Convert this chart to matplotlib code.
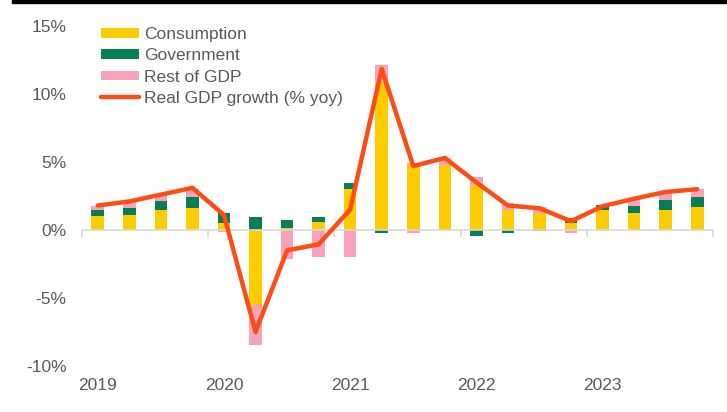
import numpy as np
import matplotlib.pyplot as plt
from matplotlib.patches import Rectangle

plt.rcParams.update({
    'font.family': ['Liberation Sans', 'DejaVu Sans'],
    'font.size': 12.5,
    'text.color': '#595959',
    'xtick.color': '#595959',
    'ytick.color': '#595959',
})

# quarterly contributions to yoy real GDP growth, 2019Q1 - 2023Q4
years = ['2019', '2020', '2021', '2022', '2023']
consumption = [1.0, 1.1, 1.5, 1.6, 0.55, -5.5, 0.15, 0.6, 3.05, 10.8,
               4.9, 4.75, 3.3, 1.45, 1.25, 0.55, 1.45, 1.25, 1.5, 1.7]
government = [0.5, 0.55, 0.6, 0.85, 0.7, 0.95, 0.55, 0.32, 0.4, -0.25,
              0.0, 0.0, -0.42, -0.2, -0.1, 0.3, 0.4, 0.55, 0.7, 0.75]
rest_of_gdp = [0.3, 0.45, 0.45, 0.6, -0.15, -2.95, -2.15, -2.0, -1.95, 1.3,
               -0.2, 0.55, 0.6, 0.55, 0.45, -0.2, -0.1, 0.45, 0.55, 0.55]
gdp_growth = [1.8, 2.1, 2.6, 3.1, 1.1, -7.5, -1.5, -1.05, 1.5, 11.85,
              4.7, 5.3, 3.5, 1.8, 1.6, 0.65, 1.75, 2.3, 2.8, 3.0]

c_cons = '#FFCC00'
c_gov = '#067F55'
c_rest = '#F8A3BB'
c_gdp = '#FF4B14'
c_axis = '#D9D9D9'

fig = plt.figure(figsize=(7.27, 4.12), dpi=100)
ax = fig.add_axes([82 / 727, 1 - 366 / 412, (713 - 82) / 727, (366 - 26) / 412])

x = np.arange(len(gdp_growth))
pos_base = np.zeros(len(x))
neg_base = np.zeros(len(x))
handles = []
# positives stack upwards from zero, negatives downwards
for vals, col, lab in [(consumption, c_cons, 'Consumption'),
                       (government, c_gov, 'Government'),
                       (rest_of_gdp, c_rest, 'Rest of GDP')]:
    v = np.array(vals)
    bottom = np.where(v >= 0, pos_base, neg_base)
    b = ax.bar(x, v, 0.4, bottom=bottom, color=col, label=lab, zorder=2)
    handles.append(b)
    pos_base += np.where(v >= 0, v, 0)
    neg_base += np.where(v < 0, v, 0)

ln, = ax.plot(x, gdp_growth, color=c_gdp, lw=3.2, solid_joinstyle='round',
              solid_capstyle='round', label='Real GDP growth (% yoy)', zorder=3)
handles.append(ln)

ax.set_xlim(-0.5, len(x) - 0.5)
ax.set_ylim(-10, 15)
ax.set_yticks([-10, -5, 0, 5, 10, 15])
ax.set_yticklabels(['-10%', '-5%', '0%', '5%', '10%', '15%'])
ax.tick_params(axis='y', length=0, pad=11)

for s in ['top', 'right', 'left']:
    ax.spines[s].set_visible(False)
ax.spines['bottom'].set_position(('data', 0))
ax.spines['bottom'].set_color(c_axis)
ax.spines['bottom'].set_linewidth(1.2)

# tick marks at year boundaries, year names under the first quarter
ax.set_xticks(np.arange(-0.5, len(x), 4))
ax.set_xticklabels([])
ax.tick_params(axis='x', length=5, width=1.2, color=c_axis)
for xi, yr in zip(np.arange(0, len(x), 4), years):
    ax.text(xi, -11.4, yr, ha='center', va='center', color='#595959')

ax.legend(handles=handles, loc='upper left', bbox_to_anchor=(101 / 727, 1 - 27 / 412),
          bbox_transform=fig.transFigure, frameon=False, borderpad=0,
          borderaxespad=0, handlelength=2.2, handleheight=0.46,
          handletextpad=0.3, labelspacing=0.36)

fig.patches.append(Rectangle((12 / 727, 1 - 3 / 412), 1, 3 / 412,
                             transform=fig.transFigure, color='black'))

fig.savefig('out.png', dpi=100)
